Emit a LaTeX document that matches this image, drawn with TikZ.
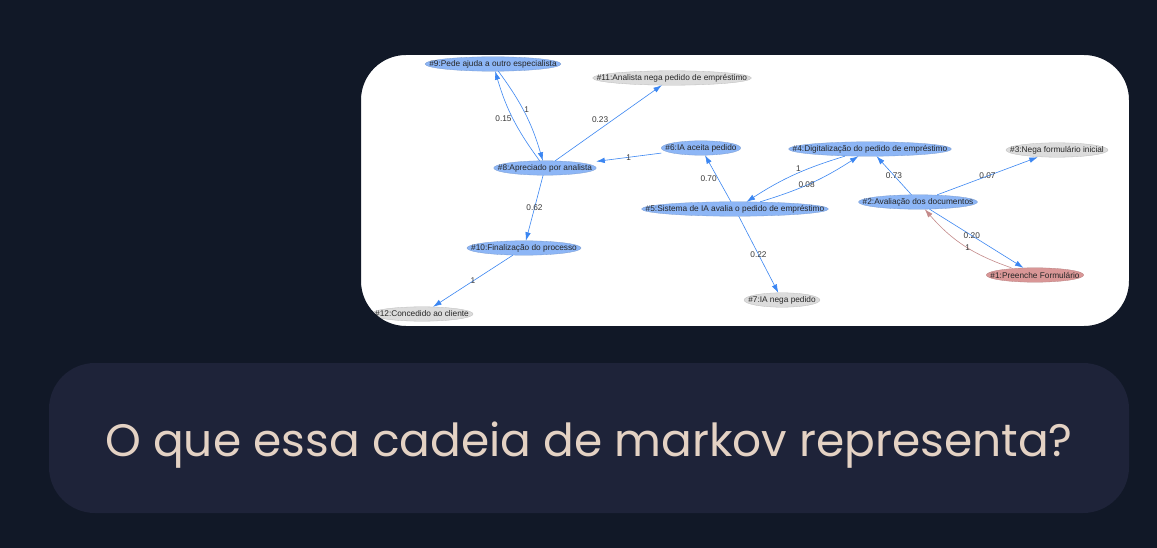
\documentclass[tikz,border=0pt]{standalone}
\usepackage{fontspec}
\setmainfont{Liberation Sans}
\newfontfamily\askfont{Poppins}
\usetikzlibrary{arrows.meta,backgrounds,calc}
\definecolor{pagebg}{HTML}{111827}
\definecolor{askbg}{HTML}{1E2339}
\definecolor{asktext}{HTML}{E4D2C4}
\definecolor{stateblue}{HTML}{8DB6F6}
\definecolor{stategrey}{HTML}{DCDCDC}
\definecolor{statered}{HTML}{D99797}
\definecolor{edgeblue}{HTML}{3B86F2}
\definecolor{edgered}{HTML}{C48A8A}
\newcommand{\stateoval}[2]{\path [fill=#2, draw=#2!85!black, line width=0.3pt] let \p1=($(#1.east)-(#1.center)$), \p2=($(#1.north)-(#1.center)$) in (#1.center) ellipse [x radius=\x1, y radius=\y2];}

\begin{document}
\begin{tikzpicture}[x=1pt, y=-1pt, every node/.style={font=\fontsize{8.3}{9}\selectfont, text=black!85},
 state/.style={inner xsep=4pt, inner ysep=0pt, minimum height=14pt},
 trans/.style={draw=edgeblue, line width=0.6pt, -{Latex[length=8.5pt,width=5.5pt]}},
 back/.style={trans, draw=edgered},
 prob/.style={inner sep=1pt, text=black!78}]
 \useasboundingbox (0,0) rectangle (1157,548);
 \begin{scope}[on background layer]
 \fill[white] (361,55) rectangle (1129,326);
 \end{scope}

 \node[state] (s9) at (493,64) {\#9:Pede ajuda a outro especialista};
 \node[state] (s11) at (672,78) {\#11:Analista nega pedido de empréstimo};
 \node[state] (s6) at (701,148) {\#6:IA aceita pedido};
 \node[state] (s8) at (545,168) {\#8:Apreciado por analista};
 \node[state] (s4) at (870,149) {\#4:Digitalização do pedido de empréstimo};
 \node[state] (s3) at (1057,150) {\#3:Nega formulário inicial};
 \node[state] (s5) at (735,209) {\#5:Sistema de IA avalia o pedido de empréstimo};
 \node[state] (s2) at (918,202) {\#2:Avaliação dos documentos};
 \node[state] (s10) at (524,248) {\#10:Finalização do processo};
 \node[state] (s1) at (1035,275) {\#1:Preenche Formulário};
 \node[state] (s7) at (782,300) {\#7:IA nega pedido};
 \node[state] (s12) at (422,314) {\#12:Concedido ao cliente};

 \draw[trans] (s9) to[bend left=10] node[prob, pos=.45, anchor=west] {1} (s8);
 \draw[trans] (s8) to[bend left=10] node[prob, pos=.5, anchor=east] {0.15} (s9);
 \draw[trans] (s8) -- node[prob, pos=.5, anchor=south east, inner sep=0pt] {0.23} (s11);
 \draw[trans] (s6) -- node[prob, pos=.5] {1} (s8);
 \draw[trans] (s5) -- node[prob, pos=.5, anchor=east] {0.70} (s6);
 \draw[trans] (s8) -- node[prob, pos=.5] {0.62} (s10);
 \draw[trans] (s10) -- node[prob, pos=.5] {1} (s12);
 \draw[trans] (s5) -- node[prob, pos=.5] {0.22} (s7);
 \draw[trans] (s4) to[bend right=8] node[prob, pos=.45, anchor=south] {1} (s5);
 \draw[trans] (s5) to[bend right=8] node[prob, pos=.45] {0.08} (s4);
 \draw[trans] (s2) -- node[prob, pos=.5] {0.73} (s4);
 \draw[trans] (s2) -- node[prob, pos=.5] {0.07} (s3);
 \draw[trans] (s2) -- node[prob, pos=.45] {0.20} (s1);
 \draw[back] (s1) to[bend left=15] node[prob, pos=.45] {1} (s2);

 \begin{scope}[on background layer]
 \foreach \s in {s2,s4,s5,s6,s8,s9,s10} {\stateoval{\s}{stateblue}}
 \foreach \s in {s3,s7,s11,s12} {\stateoval{\s}{stategrey}}
 \stateoval{s1}{statered}
 \end{scope}

 \fill[pagebg, even odd rule] (0,0) rectangle (1157,548) [rounded corners=45pt] (361,55) rectangle (1129,326);
 \fill[askbg, rounded corners=46pt] (49,363) rectangle (1129,513);
 \node[font=\askfont\fontsize{45.5}{50}\selectfont, text=asktext, anchor=base] (ask) at (589,456) {O que essa cadeia de markov representa?};
%\draw[red] (ask.south west) rectangle (ask.north east);
\end{tikzpicture}
\end{document}
